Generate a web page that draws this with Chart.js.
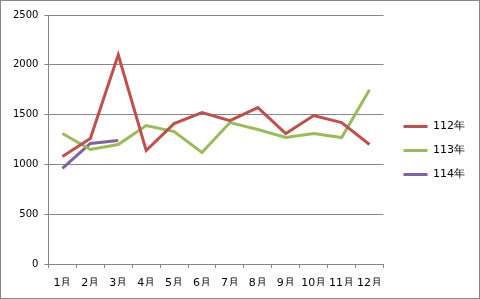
<!DOCTYPE html>
<html>
<head>
<meta charset="utf-8">
<script src="https://cdn.jsdelivr.net/npm/chart.js@4/dist/chart.umd.min.js"></script>
<style>
  html, body { margin: 0; padding: 0; background: #fff; }
  #wrap { width: 480px; height: 299px; box-sizing: border-box; border: 1px solid #868686; position: relative; }
  canvas { display: block; }
</style>
</head>
<body>
<div id="wrap"><canvas id="chart"></canvas></div>
<script>
// month labels and yearly series
const months = ['1月', '2月', '3月', '4月', '5月', '6月', '7月', '8月', '9月', '10月', '11月', '12月'];
const y112 = [1080, 1260, 2100, 1140, 1410, 1520, 1440, 1570, 1310, 1490, 1420, 1200];
const y113 = [1310, 1150, 1200, 1390, 1330, 1120, 1420, 1350, 1270, 1310, 1270, 1750];
const y114 = [960, 1210, 1240];
const yTicks = [0, 500, 1000, 1500, 2000, 2500];

const FONT = "'DejaVu Sans', Verdana, sans-serif";
const LEGEND_GAP = 7;

function series(label, data, color) {
    return {
        label,
        data,
        borderColor: color,
        backgroundColor: color,
        borderWidth: 3,
        pointRadius: 0,
        pointStyle: 'line',
        tension: 0,
        fill: false
    };
}

// leave a wider gap between the plot and the legend
const legendGap = {
    id: 'legendGap',
    afterInit(chart) {
        const legend = chart.legend;
        const fit = legend.fit;
        legend.fit = function () {
            fit.call(this);
            this.width += LEGEND_GAP;
        };
    },
    afterLayout(chart) {
        chart.legend.left += LEGEND_GAP;
    }
};

const ctx = document.getElementById('chart').getContext('2d');
new Chart(ctx, {
    type: 'line',
    data: {
        labels: months,
        datasets: [
            series('112年', y112, '#C0504D'),
            series('113年', y113, '#9BBB59'),
            series('114年', y114, '#8064A2')
        ]
    },
    options: {
        responsive: true,
        maintainAspectRatio: false,
        animation: false,
        layout: { padding: { top: 14, right: 4, left: 6, bottom: 12 } },
        plugins: {
            tooltip: { enabled: false },
            legend: {
                position: 'right',
                labels: {
                    usePointStyle: true,
                    pointStyleWidth: 24,
                    boxHeight: 3,
                    color: '#000',
                    font: { family: FONT, size: 11 },
                    padding: 13
                }
            }
        },
        scales: {
            x: {
                offset: true,
                grid: { offset: true, drawOnChartArea: false, drawTicks: true, tickLength: 4, color: '#868686' },
                border: { color: '#868686' },
                ticks: { color: '#000', font: { family: FONT, size: 11 }, maxRotation: 0, autoSkip: false, padding: 9 },
                afterFit: scale => { scale.height = 22; }
            },
            y: {
                min: yTicks[0],
                max: yTicks[yTicks.length - 1],
                afterBuildTicks: axis => { axis.ticks = yTicks.map(v => ({ value: v })); },
                grid: { color: '#868686', drawTicks: true, tickLength: 4 },
                border: { color: '#868686' },
                ticks: { color: '#000', font: { family: FONT, size: 10 }, padding: 6, callback: v => String(v) }
            }
        }
    },
    plugins: [legendGap]
});
</script>
</body>
</html>
